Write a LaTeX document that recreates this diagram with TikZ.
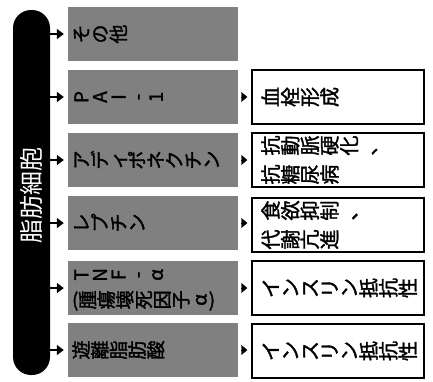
\documentclass[tikz,border=0pt]{standalone}
\usepackage{fontspec}
\usepackage{graphicx}
\usetikzlibrary{arrows.meta}
\newfontfamily\jp{Noto Sans CJK JP}
\newfontfamily\jpb[FakeBold=1.6]{Noto Sans CJK JP}
% one glyph of vertical text, turned a quarter turn counter-clockwise
\newcommand\vtc[1]{\rotatebox[origin=c]{90}{\makebox[1em]{\rule[-0.12em]{0pt}{0.98em}#1}}}
\def\vtend{\vtend}
\def\vt#1{\vtloop#1\vtend}
\def\vtloop#1{\ifx\vtend#1\expandafter\vtstop\else\expandafter\vtgo\fi{#1}}
\def\vtstop#1{}
\def\vtgo#1{\vtc{#1}\vtloop}
\tikzset{
  cellbar/.style={fill=black, minimum width=37pt, minimum height=365pt, rounded corners=18pt, inner sep=0pt},
  celltext/.style={text=white, rotate=90, font=\jp\fontsize{24}{26}\selectfont, inner sep=0pt},
  mid/.style={fill=black!50, minimum height=54pt, text width=162pt, inner xsep=4pt, inner ysep=0pt, align=left, font=\jpb\fontsize{19}{25}\selectfont},
  res/.style={draw=black, line width=1.4pt, fill=white, minimum height=54pt, text width=154pt, inner xsep=9pt, inner ysep=0pt, align=left, font=\jpb\fontsize{20}{29}\selectfont},
  arr/.style={line width=1.6pt, -{Triangle[length=7pt,width=10pt]}, shorten >=4pt},
  tri/.style={line width=0.4pt, -{Triangle[length=6pt,width=10pt]}, shorten <=4pt, shorten >=4pt}
}
\begin{document}
\begin{tikzpicture}[x=1pt,y=-1pt]
\useasboundingbox (0,0) rectangle (433,381);
\node[cellbar] (cell) at (31.5,192.5) {};
\node[celltext] (celllabel) at (31,195) {脂肪細胞};

\node[mid] (m1) at (153,34) {\vt{その他}};
\node[mid] (m2) at (153,97) {\vt{PAI-1}};
\node[mid] (m3) at (153,160) {\vt{アディポネクチン}};
\node[mid] (m4) at (153,223) {\vt{レプチン}};
\node[mid] (m5) at (153,288) {\vt{TNF-α}\\(\vt{腫瘍壊死因子α})};
\node[mid] (m6) at (153,350) {\vt{遊離脂肪酸}};

\node[res] (r2) at (338,97) {\vt{血栓形成}};
\node[res] (r3) at (338,160) {\vt{抗動脈硬化、}\\\vt{抗糖尿病}};
\node[res] (r4) at (338,225) {\vt{食欲抑制、}\\\vt{代謝亢進}};
\node[res] (r5) at (338,288) {\vt{インスリン抵抗性}};
\node[res] (r6) at (338,351) {\vt{インスリン抵抗性}};

\foreach \m in {m1,m2,m3,m4,m5,m6}
  \draw[arr] (cell.east |- \m.west) -- (\m.west);
\foreach \i in {2,3,4,5,6}
  \draw[tri] (m\i.east) -- (r\i.west |- m\i.east);
\end{tikzpicture}
\end{document}
